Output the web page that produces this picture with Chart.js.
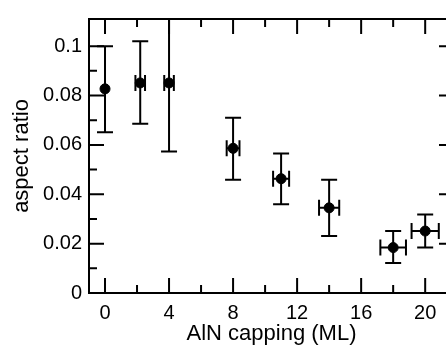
<!DOCTYPE html>
<html>
<head>
<meta charset="utf-8">
<script src="https://cdn.jsdelivr.net/npm/chart.js@4.4.1/dist/chart.umd.min.js"></script>
<style>
    html, body { margin: 0; padding: 0; background: #fff; overflow: hidden; }
    #wrap { width: 446px; height: 347px; overflow: hidden; }
</style>
</head>
<body>
<div id="wrap"><canvas id="chart" width="470" height="347"></canvas></div>
<script>
// Measured points (aspect ratio vs AlN capping thickness)
const xValues = [0, 2.2, 4, 8, 11, 14, 18, 20];
const yValues = [0.0827, 0.0851, 0.0851, 0.0586, 0.0463, 0.0345, 0.0184, 0.0251];
// error bar ends
const yLow = [0.0651, 0.0686, 0.0573, 0.0459, 0.0360, 0.0231, 0.0122, 0.0184];
const yHigh = [0.1000, 0.1020, 0.1150, 0.0710, 0.0565, 0.0459, 0.0251, 0.0318];
const xErr = [0, 0.3, 0.3, 0.4, 0.5, 0.63, 0.8, 0.85];

// Axis ticks
const xTickValues = [0, 4, 8, 12, 16, 20];
const xTickLabels = ['0', '4', '8', '12', '16', '20'];
const xMinorValues = [2, 6, 10, 14, 18];
const yTickValues = [0, 0.02, 0.04, 0.06, 0.08, 0.1];
const yTickLabels = ['0', '0.02', '0.04', '0.06', '0.08', '0.1'];
const yMinorValues = [0.01, 0.03, 0.05, 0.07, 0.09];

const FONT = '"Liberation Sans", Arial, sans-serif';

// Error bars drawn through the scales
const errorBars = {
    id: 'errorBars',
    beforeDatasetsDraw(chart) {
        const { ctx, chartArea: a, scales: { x, y } } = chart;
        ctx.save();
        ctx.beginPath();
        ctx.rect(a.left, a.top, a.right - a.left, a.bottom - a.top);
        ctx.clip();
        ctx.strokeStyle = '#000';
        ctx.lineWidth = 2;
        const cap = 8;
        xValues.forEach((xv, i) => {
            const px = x.getPixelForValue(xv);
            const py = y.getPixelForValue(yValues[i]);
            const top = y.getPixelForValue(yHigh[i]);
            const bot = y.getPixelForValue(yLow[i]);
            ctx.beginPath();
            ctx.moveTo(px, top); ctx.lineTo(px, bot);
            ctx.moveTo(px - cap, top); ctx.lineTo(px + cap, top);
            ctx.moveTo(px - cap, bot); ctx.lineTo(px + cap, bot);
            if (xErr[i] > 0) {
                const l = x.getPixelForValue(xv - xErr[i]);
                const r = x.getPixelForValue(xv + xErr[i]);
                ctx.moveTo(l, py); ctx.lineTo(r, py);
                ctx.moveTo(l, py - cap); ctx.lineTo(l, py + cap);
                ctx.moveTo(r, py - cap); ctx.lineTo(r, py + cap);
            }
            ctx.stroke();
        });
        ctx.restore();
    }
};

// Frame box with inward ticks on all four sides
const frameTicks = {
    id: 'frameTicks',
    afterDraw(chart) {
        const { ctx, chartArea: a, scales: { x, y } } = chart;
        ctx.save();
        ctx.strokeStyle = '#000';
        ctx.lineWidth = 2;
        ctx.strokeRect(a.left, a.top, a.right - a.left, a.bottom - a.top);
        ctx.beginPath();
        const major = 15, minor = 8;
        const xTick = (v, len) => {
            const px = x.getPixelForValue(v);
            ctx.moveTo(px, a.bottom); ctx.lineTo(px, a.bottom - len);
            ctx.moveTo(px, a.top); ctx.lineTo(px, a.top + len);
        };
        const yTick = (v, len) => {
            const py = y.getPixelForValue(v);
            ctx.moveTo(a.left, py); ctx.lineTo(a.left + len, py);
            ctx.moveTo(a.right, py); ctx.lineTo(a.right - len, py);
        };
        xTickValues.forEach(v => xTick(v, major));
        xMinorValues.forEach(v => xTick(v, minor));
        yTickValues.forEach(v => yTick(v, major));
        yMinorValues.forEach(v => yTick(v, minor));
        ctx.stroke();
        ctx.restore();
    }
};

new Chart(document.getElementById('chart'), {
    type: 'scatter',
    data: {
        datasets: [{
            data: xValues.map((v, i) => ({ x: v, y: yValues[i] })),
            backgroundColor: '#000',
            borderColor: '#000',
            pointRadius: 5,
            pointHoverRadius: 5
        }]
    },
    options: {
        responsive: false,
        animation: false,
        events: [],
        layout: { padding: { top: 10, right: 16, left: 0, bottom: 0 } },
        plugins: { legend: { display: false }, tooltip: { enabled: false } },
        scales: {
            x: {
                type: 'linear',
                min: -1,
                max: 21.8,
                afterBuildTicks: s => { s.ticks = xTickValues.map(v => ({ value: v })); },
                afterFit: s => { s.height = 54; },
                grid: { display: false, drawTicks: false },
                border: { display: false },
                ticks: {
                    autoSkip: false,
                    maxRotation: 0,
                    padding: 8,
                    color: '#000',
                    font: { family: FONT, size: 20 },
                    callback: (v, i) => xTickLabels[i]
                },
                title: {
                    display: true,
                    text: 'AlN capping (ML)',
                    color: '#000',
                    font: { family: FONT, size: 22 },
                    padding: { top: 0, bottom: 0 }
                }
            },
            y: {
                min: 0,
                max: 0.111,
                afterBuildTicks: s => { s.ticks = yTickValues.map(v => ({ value: v })); },
                afterFit: s => { s.width = 89; },
                grid: { display: false, drawTicks: false },
                border: { display: false },
                ticks: {
                    autoSkip: false,
                    padding: 7,
                    color: '#000',
                    font: { family: FONT, size: 20 },
                    callback: (v, i) => yTickLabels[i]
                },
                title: {
                    display: true,
                    text: 'aspect ratio',
                    color: '#000',
                    font: { family: FONT, size: 22 },
                    padding: { top: 9, bottom: 0 }
                }
            }
        }
    },
    plugins: [errorBars, frameTicks]
});
</script>
</body>
</html>
